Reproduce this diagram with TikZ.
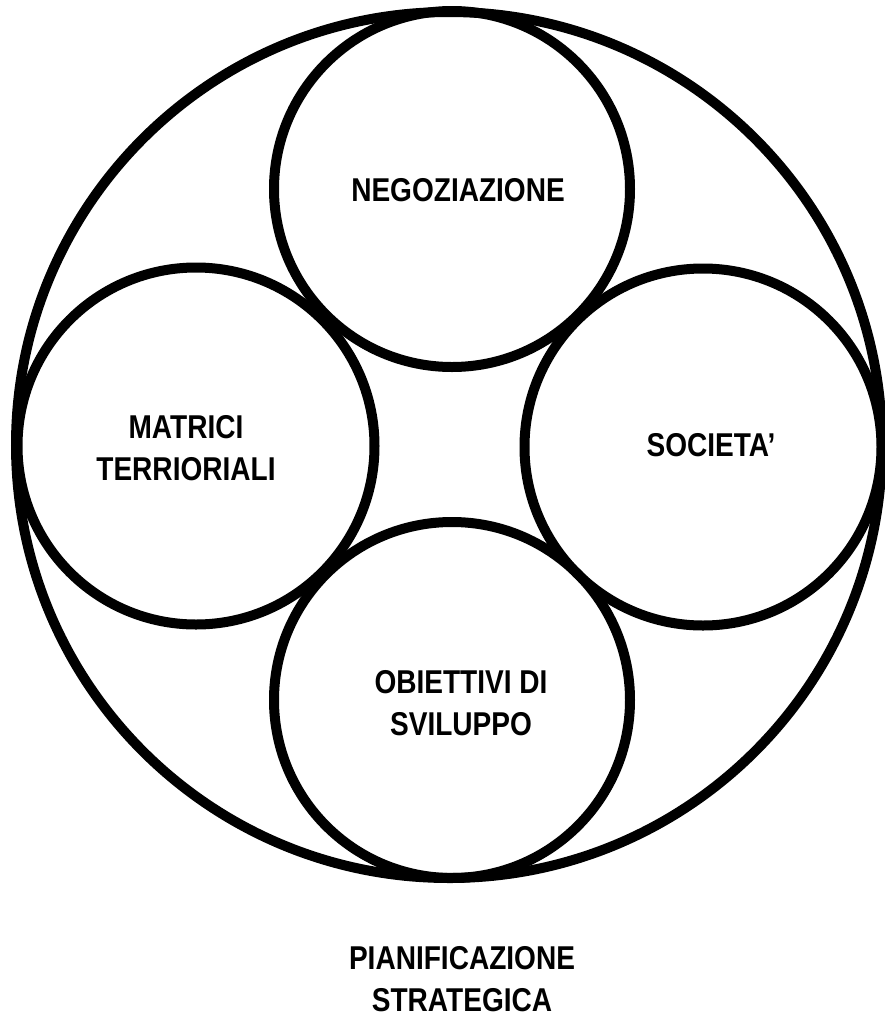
\documentclass[tikz,border=0pt]{standalone}
\usepackage{fontspec}
\newfontfamily\lblfont{Liberation Sans}[FakeStretch=0.85]
\begin{document}
\begin{tikzpicture}[x=1pt,y=-1pt,
  ring/.style={draw=black, line width=10pt, circle, inner sep=0pt, outer sep=0pt},
  lbl/.style={align=center, inner sep=0pt, font=\lblfont\bfseries\fontsize{33}{42}\selectfont, text=black}]
\useasboundingbox (0,0) rectangle (885,1021);
\node[ring, minimum size=866pt] (outer) at (449,445) {};
\node[ring, minimum size=356pt] (top) at (452,189) {};
\node[ring, minimum size=357pt] (left) at (196,446) {};
\node[ring, minimum size=357pt] (right) at (703,447) {};
\node[ring, minimum size=356pt] (bottom) at (452,700) {};
\node[lbl] (tneg) at (458,190) {NEGOZIAZIONE};
\node[lbl] (tmat) at (186,448) {MATRICI\\TERRIORIALI};
\node[lbl] (tsoc) at (711,445) {SOCIETA’};
\node[lbl] (tobi) at (461,703) {OBIETTIVI DI\\SVILUPPO};
\node[lbl] (tpia) at (462,979) {PIANIFICAZIONE\\STRATEGICA};
\end{tikzpicture}
\end{document}
